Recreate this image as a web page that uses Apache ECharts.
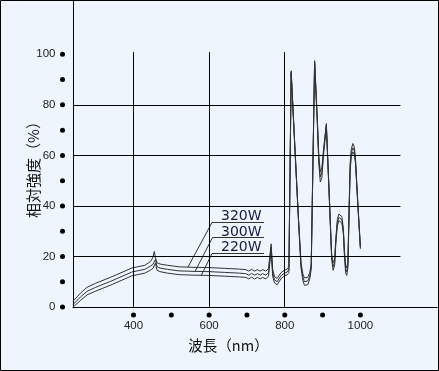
<!DOCTYPE html>
<html><head><meta charset="utf-8">
<script src="https://cdn.jsdelivr.net/npm/echarts@6/dist/echarts.min.js"></script>
<style>html,body{margin:0;padding:0;background:#eef5fc}#c{width:439px;height:371px}</style>
</head><body><div id="c"></div>
<script>
// wavelengths (nm)
const wavelengths = [240,260,277,300,340,380,395,410,430,445,451,455,458,462,470,490,520,560,600,640,680,697,705,712,720,728,735,742,750,757,764,768,773,780,790,800,806,811,817,826,836,843,848,852,856,861,866,870,879,886,890,894,898,903,910,917,924,928,932,935,939,943,947,951,955,958,961,964,967,970,973,976,980,984,987,993,1000];
const s320W = [2.3,5.5,7.8,9.4,11.8,14.4,15.4,15.9,16.5,18,19.5,22,19.5,17.5,17,16.5,15.9,15.7,15.6,15.3,15,14.8,14.2,14.9,14.2,14.8,14.2,14.8,14.2,15.2,25,15,12,11.3,13.6,14.6,14.9,16,93.5,66,36,17.5,13,11.5,11.2,11.8,13.5,17,97.5,75,60,53.5,55,63,72.6,47,21,17.5,19,27,34.5,36.8,37,35.8,31,22,16.5,15.5,18,38,57,62.5,64.7,63.3,59,42,24];
const s300W = [1.0,4.0,6.2,7.8,10.2,12.8,13.8,14.3,14.9,16.2,16.8,17.3,18.8,16,15.4,14.9,14.3,14.1,14.0,13.7,13.4,13.2,12.6,13.3,12.6,13.2,12.6,13.2,12.6,13.6,23.8,13.6,10.7,10,12.4,13.5,13.8,14.8,93,65.5,35.5,16.5,11.8,10,9.7,10.3,12.2,16,97,74,58.5,51.5,53,62,72,46.5,20,16,17.8,26,33.3,35.5,35.7,34.5,30,21,15,14,16.8,37,55.5,61,63,61.8,58,41.5,23.5];
const s220W = [0,2.6,4.8,6.3,8.7,11.3,12.3,12.8,13.4,14.6,15.2,15.7,17.4,14.6,14,13.4,12.8,12.6,12.5,12.2,11.9,11.7,11.1,11.8,11.1,11.7,11.1,11.7,11.1,12.2,22.6,12.2,9.5,8.8,11.2,12.4,12.7,13.6,92.5,65,35,15.5,10.5,8.6,8.2,8.8,11,15,96.5,73,57,49.5,51,61,71.4,46,19,14.5,16.6,25,32,34.2,34.4,33.2,29,20,13.5,12.5,15.6,36,54,59.5,61.4,60.3,57,41,23];
const seriesNames = ['320W','300W','220W'];
const xLabelValues = [400,600,800,1000];
const xDotValues = [400,500,600,700,800,900,1000];
const yLabelValues = [0,20,40,60,80,100];
const gridY = [20,40,60,80];
const gridX = [400,600,800];
const gridXEnd = 1106;
const gridYEnd = 100.9;

const chart = echarts.init(document.getElementById('c'), null, {renderer:'canvas'});
const pairs = arr => wavelengths.map((w,i)=>[w,arr[i]]);
const lineStyle = {color:'#333', width:1};
const markLines = [];
gridY.forEach(v=>markLines.push([{coord:[240,v]},{coord:[gridXEnd,v]}]));
gridX.forEach(v=>markLines.push([{coord:[v,0]},{coord:[v,gridYEnd]}]));

const lblFont = 'Liberation Sans, Arial, sans-serif';
const cjk = '"Noto Sans CJK JP", sans-serif';
const labelColor = '#1a1a40';
chart.setOption({
  backgroundColor:'#eef5fc',
  animation:false,
  grid:{left:73, right:0, top:0, bottom:64, containLabel:false},
  xAxis:{type:'value', min:240, max:1203.2, interval:20,
    axisLine:{show:true, lineStyle:{color:'#000', width:1}},
    axisTick:{show:false}, splitLine:{show:false},
    axisLabel:{interval:0, margin:5, showMinLabel:true, showMaxLabel:false,
      formatter:v=>{
        if (xDotValues.indexOf(v)<0) return '';
        return '{d|}\n{t|' + (xLabelValues.indexOf(v)>=0 ? v : ' ') + '}';
      },
      rich:{d:{width:5,height:5,borderRadius:2.5,backgroundColor:'#000',lineHeight:6},
            t:{fontSize:11.5,fontFamily:lblFont,color:'#222',lineHeight:16}}}
  },
  yAxis:{type:'value', min:0, max:121.5, interval:10,
    axisLine:{show:true, lineStyle:{color:'#000', width:1}},
    axisTick:{show:false}, splitLine:{show:false},
    axisLabel:{margin:8, showMaxLabel:false,
      formatter:v=>{
        if (v>100) return '';
        if (yLabelValues.indexOf(v)>=0) return '{t|'+v+'}{d|}';
        return '{d|}';
      },
      rich:{d:{width:5,height:5,borderRadius:2.5,backgroundColor:'#000'},
            t:{fontSize:11.5,fontFamily:lblFont,color:'#222',padding:[0,4.5,0,0]}}}
  },
  series:[
    {name:seriesNames[0], type:'line', data:pairs(s320W), showSymbol:false, lineStyle, silent:true,
      markLine:{silent:true, symbol:'none', label:{show:false}, lineStyle:{color:'#000', width:1, type:'solid'}, data:markLines}},
    {name:seriesNames[1], type:'line', data:pairs(s300W), showSymbol:false, lineStyle, silent:true},
    {name:seriesNames[2], type:'line', data:pairs(s220W), showSymbol:false, lineStyle, silent:true}
  ],
  graphic:[
    {type:'line', shape:{x1:188,y1:267,x2:212,y2:222.5}, style:{stroke:'#333',lineWidth:1}},
    {type:'line', shape:{x1:212,y1:222.5,x2:264,y2:222.5}, style:{stroke:'#333',lineWidth:1}},
    {type:'line', shape:{x1:195,y1:271.5,x2:212.5,y2:237.5}, style:{stroke:'#333',lineWidth:1}},
    {type:'line', shape:{x1:212.5,y1:237.5,x2:264,y2:237.5}, style:{stroke:'#333',lineWidth:1}},
    {type:'line', shape:{x1:201,y1:276,x2:212,y2:253.5}, style:{stroke:'#333',lineWidth:1}},
    {type:'line', shape:{x1:212,y1:253.5,x2:264,y2:253.5}, style:{stroke:'#333',lineWidth:1}},
    {type:'text', x:221, y:216.5, style:{text:seriesNames[0], fontSize:14, fontFamily:'DejaVu Sans', fill:labelColor, align:'left', verticalAlign:'middle'}},
    {type:'text', x:221, y:232, style:{text:seriesNames[1], fontSize:14, fontFamily:'DejaVu Sans', fill:labelColor, align:'left', verticalAlign:'middle'}},
    {type:'text', x:221, y:247.5, style:{text:seriesNames[2], fontSize:14, fontFamily:'DejaVu Sans', fill:labelColor, align:'left', verticalAlign:'middle'}},
    {type:'text', x:228.5, y:345, style:{text:'波長（nm）', fontSize:14.5, fontFamily:cjk, fill:'#111', align:'center', verticalAlign:'middle'}},
    {type:'text', x:33, y:166, rotation:Math.PI/2, style:{text:'相対強度（%）', fontSize:15, fontFamily:cjk, fill:'#111', align:'center', verticalAlign:'middle'}},
    {type:'rect', shape:{x:0.5,y:0.5,width:438,height:370}, style:{fill:'none', stroke:'#000', lineWidth:1}, z:100}
  ]
});
</script></body></html>
